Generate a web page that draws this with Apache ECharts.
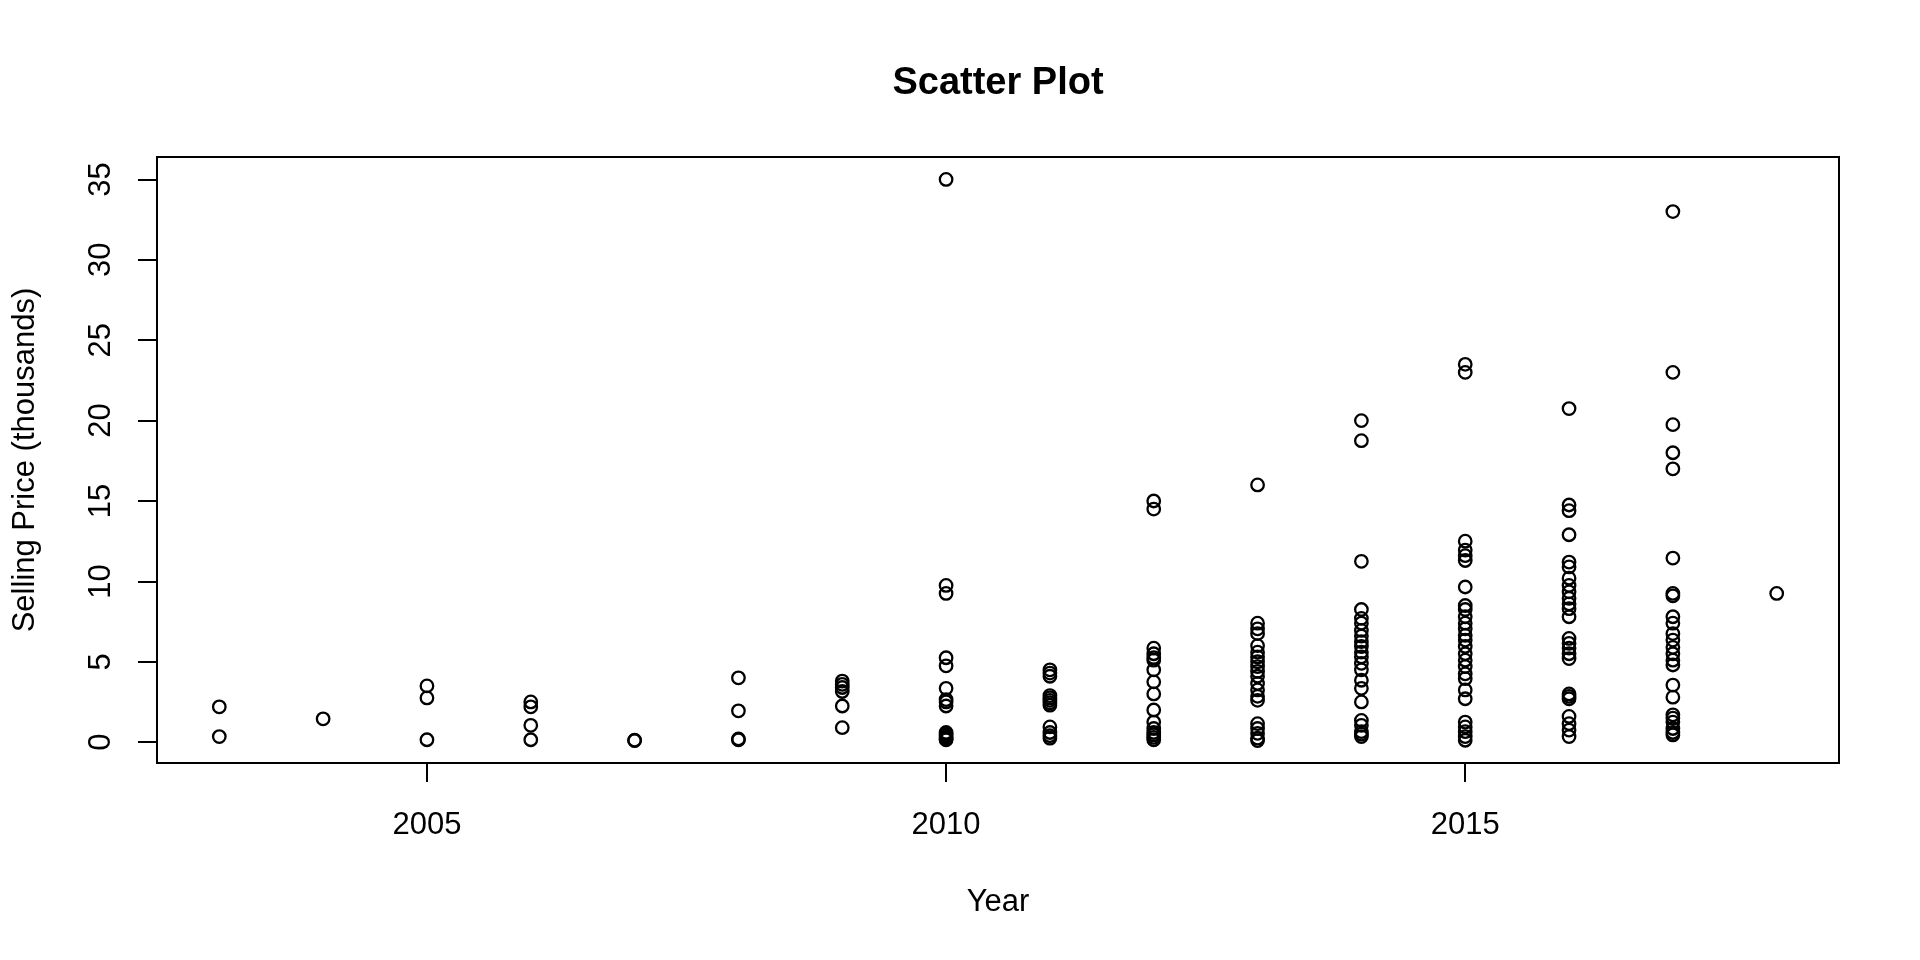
<!DOCTYPE html>
<html>
<head>
<meta charset="utf-8">
<title>Scatter Plot</title>
<script src="https://cdn.jsdelivr.net/npm/echarts@6/dist/echarts.min.js"></script>
<style>
  html, body { margin: 0; padding: 0; background: #fff; }
  #chart { width: 1920px; height: 960px; }
</style>
</head>
<body>
<div id="chart"></div>
<script>
// years on the x axis
const years = [2003, 2004, 2005, 2006, 2007, 2008, 2009, 2010, 2011, 2012, 2013, 2014, 2015, 2016, 2017, 2018];

// selling prices (thousands) read per year
const p2003 = [2.2, 0.35];
const p2004 = [1.45];
const p2005 = [3.5, 2.75, 0.15];
const p2006 = [2.5, 2.2, 1.05, 0.15];
const p2007 = [0.12, 0.1];
const p2008 = [4.0, 1.95, 0.2, 0.15];
const p2009 = [3.8, 3.6, 3.4, 3.15, 2.25, 0.9];
const p2010 = [35, 9.75, 9.25, 5.25, 4.75, 3.35, 2.65, 2.5, 2.25, 0.6, 0.5, 0.4, 0.3, 0.2, 0.15];
const p2011 = [4.5, 4.3, 4.1, 2.9, 2.75, 2.6, 2.45, 2.3, 0.95, 0.6, 0.4, 0.25];
const p2012 = [15.0, 14.5, 5.85, 5.5, 5.25, 5.1, 4.5, 3.75, 3.0, 2.0, 1.25, 0.85, 0.6, 0.45, 0.3, 0.15];
const p2013 = [16.0, 7.4, 7.05, 6.75, 6.0, 5.6, 5.3, 5.0, 4.7, 4.4, 4.1, 3.65, 3.25, 2.85, 2.6, 1.15, 0.85, 0.55, 0.25, 0.1];
const p2014 = [20.0, 18.75, 11.25, 8.25, 7.7, 7.4, 6.95, 6.6, 6.25, 5.95, 5.6, 5.3, 4.9, 4.5, 3.85, 3.35, 2.5, 1.35, 1.05, 0.65, 0.5, 0.35];
const p2015 = [23.5, 23.0, 12.5, 11.95, 11.6, 11.3, 9.65, 8.5, 8.25, 7.8, 7.4, 7.05, 6.65, 6.35, 5.95, 5.5, 5.1, 4.7, 4.25, 3.95, 3.25, 2.7, 1.25, 0.95, 0.65, 0.35, 0.12];
const p2016 = [20.75, 14.75, 14.4, 12.9, 11.2, 10.9, 10.2, 9.75, 9.35, 8.95, 8.6, 8.3, 7.8, 6.45, 6.15, 5.85, 5.5, 5.2, 3.0, 2.85, 2.7, 1.6, 1.15, 0.75, 0.35];
const p2017 = [33.0, 23.0, 19.75, 18.0, 17.0, 11.45, 9.25, 9.1, 7.8, 7.4, 6.75, 6.35, 5.9, 5.5, 5.1, 4.8, 3.55, 2.8, 1.7, 1.5, 1.25, 0.85, 0.6, 0.45];
const p2018 = [9.25];

const prices = [p2003, p2004, p2005, p2006, p2007, p2008, p2009, p2010,
                p2011, p2012, p2013, p2014, p2015, p2016, p2017, p2018];

// tick labels
const xTicks = [2005, 2010, 2015];
const yTicks = [0, 5, 10, 15, 20, 25, 30, 35];

// R style range: data range extended by 4% on each side
const xMin = 2003 - 15 * 0.04, xMax = 2018 + 15 * 0.04;
const yMin = 0.1 - 34.9 * 0.04, yMax = 35 + 34.9 * 0.04;

// points
let points = [];
years.forEach((yr, i) => {
    prices[i].forEach((v) => {
        points.push([yr, v]);
    });
});

const font = 'Liberation Sans, Arial, sans-serif';

let myChart = echarts.init(document.getElementById('chart'));

let option = {
    animation: false,
    backgroundColor: '#fff',
    title: {
        text: 'Scatter Plot',
        left: 998,
        top: 65,
        padding: 0,
        textAlign: 'center',
        textStyle: {
            fontFamily: font,
            fontSize: 38,
            fontWeight: 'bold',
            color: '#000'
        }
    },
    grid: {
        left: 157,
        right: 81,
        top: 157,
        bottom: 197,
        show: true,
        borderColor: '#000',
        borderWidth: 2,
        backgroundColor: 'transparent'
    },
    xAxis: {
        type: 'value',
        min: xMin,
        max: xMax,
        name: 'Year',
        nameLocation: 'middle',
        nameGap: 124,
        nameTextStyle: { fontFamily: font, fontSize: 31, color: '#000' },
        axisLine: { show: false, onZero: false },
        splitLine: { show: false },
        axisTick: {
            show: true,
            customValues: xTicks,
            length: 19,
            lineStyle: { color: '#000', width: 2 }
        },
        axisLabel: {
            customValues: xTicks,
            margin: 47,
            fontFamily: font,
            fontSize: 31,
            color: '#000',
            formatter: function (value) {
                return String(value);
            }
        }
    },
    yAxis: {
        type: 'value',
        min: yMin,
        max: yMax,
        name: 'Selling Price (thousands)',
        nameLocation: 'middle',
        nameGap: 116,
        nameTextStyle: { fontFamily: font, fontSize: 31, color: '#000' },
        axisLine: { show: false, onZero: false },
        splitLine: { show: false },
        axisTick: {
            show: true,
            customValues: yTicks,
            length: 19,
            lineStyle: { color: '#000', width: 2 }
        },
        axisLabel: {
            customValues: yTicks,
            rotate: 90,
            margin: 40,
            fontFamily: font,
            fontSize: 31,
            color: '#000',
            formatter: function (value) {
                return String(value);
            }
        }
    },
    series: [{
        type: 'scatter',
        data: points,
        symbol: 'circle',
        symbolSize: 12.5,
        itemStyle: {
            color: 'rgba(0,0,0,0)',
            borderColor: '#000',
            borderWidth: 2.3,
            opacity: 1
        },
        emphasis: { disabled: true }
    }]
};

myChart.setOption(option, true);
</script>
</body>
</html>
